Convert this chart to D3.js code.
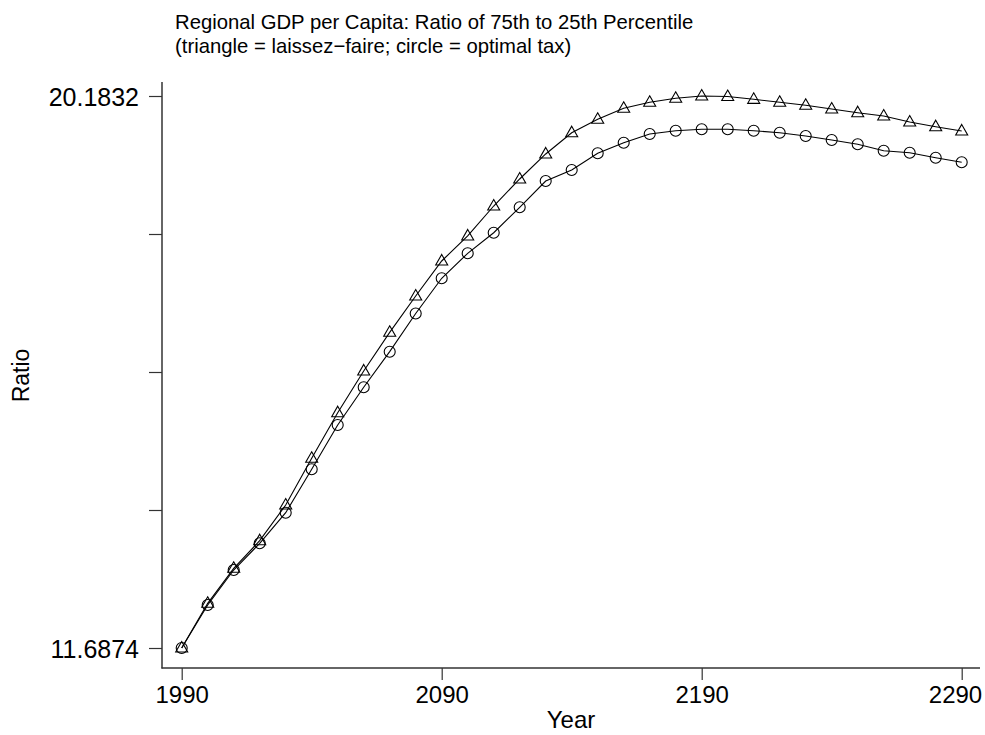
<!DOCTYPE html>
<html><head><meta charset="utf-8">
<script src="https://cdn.jsdelivr.net/npm/d3@7"></script>
<style>body{margin:0;background:#fff}svg{display:block}text{font-family:"Liberation Sans",Arial,sans-serif;fill:#000}</style>
</head><body>
<script>
const years = d3.range(1990, 2291, 10);
const laissezFaire = [11.6874,12.375,12.914,13.339,13.888,14.607,15.309,15.951,16.546,17.105,17.644,18.029,18.490,18.906,19.291,19.618,19.825,19.994,20.086,20.148,20.1832,20.175,20.132,20.086,20.040,19.983,19.926,19.875,19.783,19.711,19.645];
const optimalTax = [11.6874,12.349,12.888,13.299,13.770,14.438,15.120,15.700,16.248,16.836,17.378,17.762,18.079,18.470,18.875,19.044,19.301,19.464,19.598,19.649,19.672,19.671,19.649,19.618,19.567,19.506,19.440,19.341,19.310,19.233,19.163];
const xTicks = [1990, 2090, 2190, 2290];
const yMin = 11.6874, yMax = 20.1832;
const yTicks = d3.range(5).map(i => yMin + (yMax - yMin) * i / 4);
const yTickLabels = ["11.6874", "", "", "", "20.1832"];
const titleLines = ["Regional GDP per Capita: Ratio of 75th to 25th Percentile", "(triangle = laissez\u2212faire; circle = optimal tax)"];

const W = 985, H = 735;
const svg = d3.select("body").append("svg").attr("width", W).attr("height", H);
const x = d3.scaleLinear().domain([1990, 2290]).range([181.7, 961.7]);
const y = d3.scaleLinear().domain([yMin, yMax]).range([648, 96]);
const axisLeft = 162, axisBottom = 668;

// axes lines
svg.append("line").attr("x1", axisLeft).attr("x2", axisLeft).attr("y1", 82).attr("y2", axisBottom + 0.5)
  .attr("stroke", "#333").attr("stroke-width", 1.5);
svg.append("line").attr("x1", axisLeft - 0.5).attr("x2", 980).attr("y1", axisBottom).attr("y2", axisBottom)
  .attr("stroke", "#333").attr("stroke-width", 1.5);

// y axis
const ya = d3.axisLeft(y).tickValues(yTicks).tickSize(13).tickPadding(10)
  .tickFormat((d, i) => yTickLabels[i]);
const gy = svg.append("g").attr("transform", `translate(${axisLeft},0)`).call(ya);
gy.select(".domain").remove();
gy.selectAll(".tick line").attr("stroke", "#333").attr("stroke-width", 1.2);
gy.selectAll(".tick text").attr("font-size", 25).attr("font-family", "Liberation Sans, Arial, sans-serif")
  .attr("fill", "#000").attr("dy", "0.36em");

// x axis
const xa = d3.axisBottom(x).tickValues(xTicks).tickSize(12).tickPadding(4).tickFormat(d3.format("d"));
const gx = svg.append("g").attr("transform", `translate(0,${axisBottom})`).call(xa);
gx.select(".domain").remove();
gx.selectAll(".tick line").attr("stroke", "#333").attr("stroke-width", 1.2);
gx.selectAll(".tick text").attr("font-size", 24).attr("font-family", "Liberation Sans, Arial, sans-serif")
  .attr("fill", "#000").attr("dy", null).attr("y", 35);
// keep the last label inside the frame, as in the reference
gx.selectAll(".tick text").filter(d => d === 2290).attr("text-anchor", "end").attr("x", 20);

// axis titles
svg.append("text").attr("x", 571).attr("y", 728).attr("text-anchor", "middle").attr("font-size", 24).text("Year");
svg.append("text").attr("transform", "translate(29,375.5) rotate(-90)").attr("text-anchor", "middle").attr("font-size", 23).text("Ratio");

// title
svg.selectAll("text.title").data(titleLines).enter().append("text").attr("class", "title")
  .attr("x", 175).attr("y", (d, i) => 29 + i * 24).attr("font-size", 20.3).text(d => d);

// lines
const line = d3.line().x((d, i) => x(years[i])).y(d => y(d));
[laissezFaire, optimalTax].forEach(s => {
  svg.append("path").datum(s).attr("d", line).attr("fill", "none").attr("stroke", "#000").attr("stroke-width", 1.1);
});

// markers
svg.selectAll("circle.opt").data(optimalTax).enter().append("circle").attr("class", "opt")
  .attr("cx", (d, i) => x(years[i])).attr("cy", d => y(d)).attr("r", 5.5)
  .attr("fill", "none").attr("stroke", "#000").attr("stroke-width", 1.1);
const tri = "M0,-6.5L6,4L-6,4Z";
svg.selectAll("path.lf").data(laissezFaire).enter().append("path").attr("class", "lf")
  .attr("d", tri).attr("transform", (d, i) => `translate(${x(years[i])},${y(d)})`)
  .attr("fill", "none").attr("stroke", "#000").attr("stroke-width", 1.1);
</script>
</body></html>
